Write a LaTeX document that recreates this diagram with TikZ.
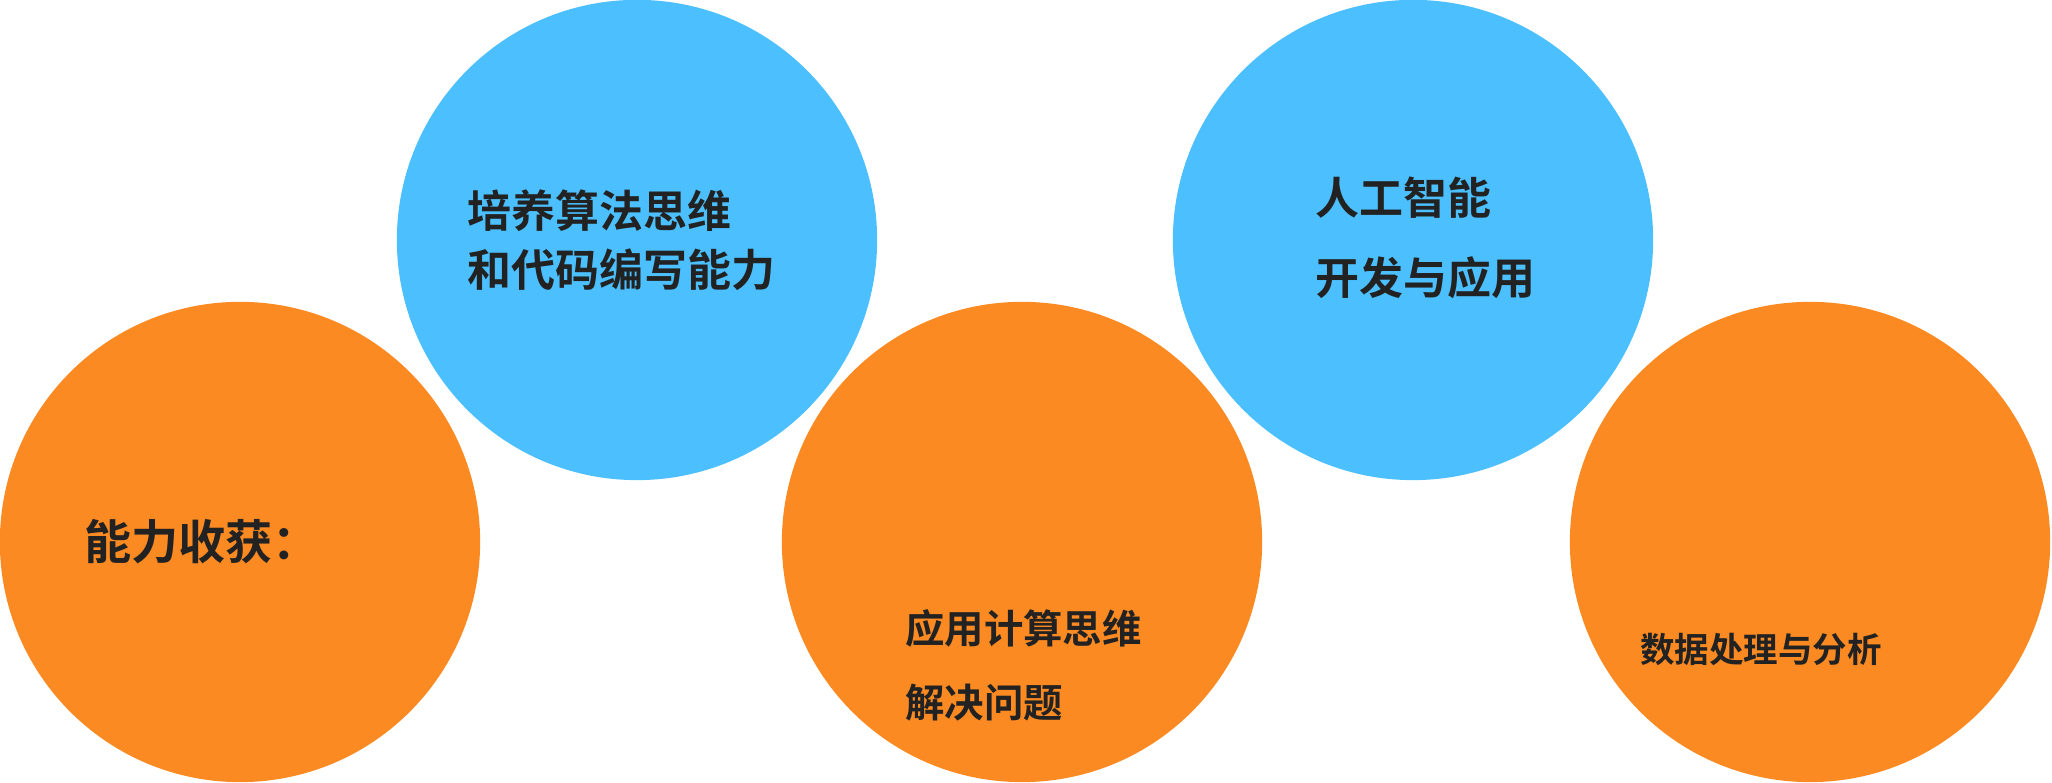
\documentclass[tikz,border=0pt]{standalone}
\usepackage{fontspec}
\newfontfamily\cjk{Noto Sans CJK SC}[BoldFont={Noto Sans CJK SC Bold}]
\definecolor{orangeball}{HTML}{FB8A22}
\definecolor{blueball}{HTML}{4CC0FF}
\definecolor{inktext}{HTML}{222222}
\tikzset{
  ball/.style={circle,minimum size=4.8cm,inner sep=0pt},
  balltext/.style={anchor=west,align=left,text=inktext,
    font=\cjk\bfseries\fontsize{11.5}{17}\selectfont}
}
\begin{document}
\begin{tikzpicture}[x=0.01cm,y=0.01cm]
      \useasboundingbox (0,0) rectangle (2052,783);
      \node[ball,fill=orangeball] (o1) at (240,241) {};
      \node[ball,fill=blueball] (b1) at (637,543) {};
      \node[ball,fill=orangeball] (o2) at (1022,241) {};
      \node[ball,fill=blueball] (b2) at (1413,543) {};
      \node[ball,fill=orangeball] (o3) at (1810,241) {};
      \node[balltext,font=\cjk\bfseries\fontsize{13.4}{18}\selectfont] (title) at (72,241) {能力收获：};
      \node[balltext,font=\cjk\bfseries\fontsize{12.5}{16.7}\selectfont] (t1) at (455,543) {培养算法思维\\和代码编写能力};
      \node[balltext,font=\cjk\bfseries\fontsize{11.2}{21}\selectfont] (t2) at (893,118) {应用计算思维\\解决问题};
      \node[balltext,font=\cjk\bfseries\fontsize{12.5}{22.7}\selectfont] (t3) at (1303,545) {人工智能\\开发与应用};
      \node[balltext,font=\cjk\bfseries\fontsize{9.8}{12}\selectfont] (t4) at (1628,133) {数据处理与分析};
\end{tikzpicture}
\end{document}
